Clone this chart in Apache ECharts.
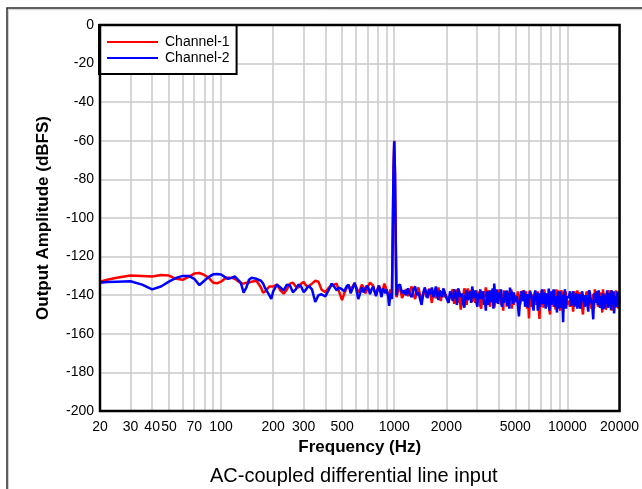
<!DOCTYPE html>
<html><head><meta charset="utf-8">
<script src="https://cdn.jsdelivr.net/npm/echarts@6/dist/echarts.min.js"></script>
<style>html,body{margin:0;padding:0;background:#fff}#chart{width:642px;height:489px}</style>
</head><body><div id="chart"></div>
<script>
// Frequency bins (Hz)
const freqHz = [
  20,22,25,30,35,40,45,50,55,60,65,70,75,80,85,90,95,100,105,110,115,120,130,135,140,145,150,160,170,175,
  180,190,195,200,210,220,230,240,250,260,270,280,290,300,310,320,335,350,365,380,400,420,435,450,465,480,500,
  515,530,545,560,575,590,605,620,635,650,665,680,695,710,725,740,755,770,785,800,815,830,845,860,875,890,905,920,935,950,962,
  970,980,990,1000,1010,1020,1030,
  1040,1050,1080,1110,1140,1170,1200,1230,1260,1290,1320,1350,1380,1410,1440,1470,1500,1530,1560,1590,1620,1650,1680,1710,1740,1770,1800,1830,1860,1890,1920,1950,1980,
  2020,2060,2100,2140,2180,2220,2260,2300,2340,2380,2420,2460,2500,2540,2580,2620,2660,2700,2740,2780,2820,2860,2900,2940,2980,3020,3060,3100,3140,3180,3220,3260,3300,3340,3380,3420,3460,3500,3540,3580,
  3620,3660,3700,3740,3780,3820,3860,3900,3940,3980,4020,4060,4100,4140,4180,4220,4260,4300,4340,4380,4420,4460,4500,4540,4580,4620,4660,4700,4740,4780,4820,4860,4900,4940,4980,
  5100,5175,5250,5325,5400,5475,5550,5625,5700,5775,5850,5925,6000,6075,6150,6225,6300,6375,6450,6525,6600,6675,6750,6825,6900,6975,7050,7125,7200,7275,7350,7425,7500,7575,7650,7725,7800,7875,7950,8025,
  8100,8175,8250,8325,8400,8475,8550,8625,8700,8775,8850,8925,9000,9075,9150,9225,9300,9375,9450,9525,9600,9675,9750,9825,9900,
  10200,10350,10500,10650,10800,10950,11100,11250,11400,11550,11700,11850,12000,12150,12300,12450,12600,12750,12900,13050,13200,13350,13500,13650,13800,13950,14100,14250,14400,14550,14700,14850,15000,
  15150,15300,15450,15600,15750,15900,16050,16200,16350,16500,16650,16800,16950,17100,17250,17400,17550,17700,17850,18000,18150,18300,18450,18600,18750,18900,19050,19200,19350,19500,19650,19800,20000
];
// Channel-1 output amplitude (dBFS)
const channel1 = [
  -133,-132,-131,-129.8,-130,-130.3,-129.5,-129.8,-131.5,-132,-130.5,-128.8,-128.5,-129.5,-131,-133.5,-133.8,-133,-131.5,-131,
  -131,-131.5,-133.8,-134,-133.5,-133.5,-133,-132.5,-136,-138.7,-138,-135.5,-135,-135.5,-134.5,-137.5,-139.2,-137,-134,-133.5,
  -135.5,-136,-134,-133.2,-135,-135.5,-134,-132.5,-133,-137,-138.5,-136,-135,-134.5,-134,-138,-142.5,
  -139,-136.5,-135,-137,-135.5,-134,-136,-138.5,-137,-134.5,-136,-139,-137.5,-135,-133.5,-132.8,-135,-138,-140,-137,
  -135,-136.5,-139.5,-137.5,-134,-135.5,-138,-139.5,-141,-137,-136.5,
  -140,-110,-76,-60,-76,-110,-141,
  -141,-138,-136,-141.5,-139,-137,-140.5,-138,-135.5,-139,-142,-138.5,-136,-140,-143,-139,-137,-141,-139.5,-136.5,
  -140,-144,-138,-137,-141.5,-139,-136,-140.5,-143,-138,-137.5,-141,-139.5,
  -139,-143,-142.5,-138.5,-137,-144.5,-140,-137,-144,-139,-147.5,-143,-141,-136.5,-138,-145,-136.5,-140,-141,-137.5,
  -143.5,-141,-139,-144,-137.5,-140.5,-142,-138,-145.5,-147,-140,-143.5,-138,-141,-136,-139,-141.5,-137.5,-144,-146,
  -139.5,-141,-142,-138.5,-146.5,-144,-140.5,-142,-137.5,-139.5,-141,-137,-143,-145,-139,-143,-148,-137.5,-142.5,-142,
  -138.5,-146,-140,-138,-144.5,-139.5,-141,-143,-137,-147,-142.5,-139,-145,-142.5,-140,
  -142,-138,-139,-145,-144.5,-140,-137.5,-143,-141,-138,-147,-141,-152,-137.5,-143,-146,-139.5,-143,-141.5,-138,
  -145,-141.5,-138,-146,-152.3,-140,-144,-137.5,-140,-146.5,-137,-141,-142.5,-139,-146,-143,-139,-148,-150,-141,
  -143.5,-139,-138.5,-146,-141,-142,-147.5,-137,-140,-144.5,-137.5,-139.5,-144,-148,-142,-137.5,-139,-142,-148.5,-139,
  -141,-144,-138,-140,-145,
  -143,-146,-139,-143,-148.5,-138,-141,-144,-137.5,-140,-145,-138.5,-142,-146,-150,-143,-140,-144,-138,-141,
  -144.5,-137.5,-141.5,-145,-147,-142,-139.5,-147,-137,-140,-143.5,-138,-146,-143,-140.5,-145,-138.5,-141,-149,-137,
  -142,-144,-139,-147.5,-145.5,-139,-141,-142,-137.5,-146,-144,-137.5,-148,-143,-140,-145,-138.5,-140,-143,-137.5,
  -146.5,-142,-139.5,-147,-144,-143
];
// Channel-2 output amplitude (dBFS)
const channel2 = [
  -133.5,-133.2,-133,-132.8,-134.5,-137,-135.5,-133,-131,-130,-130,-131.5,-134.8,-132.5,-130.5,-129.2,-129,-129.3,-130.5,-131.5,
  -131,-130.3,-133.5,-138.7,-136,-132,-131,-131.5,-132.5,-134,-136.5,-140,-142,-138,-134.5,-136,-137.5,-134.5,-135,-138.5,
  -137,-134.5,-135.5,-138.5,-137,-135,-137,-143.5,-140,-139.5,-140.7,-137,-134,-135.5,-137.5,-136,-137,
  -138,-135.5,-134.5,-139,-136.5,-133.5,-137,-142,-139,-136,-138.5,-137,-135,-136.5,-139.5,-137,-135.5,-138,-140.5,-137.5,
  -135,-138,-141,-136.5,-135.5,-139,-137,-140,-145.5,-139,-140,
  -142,-110,-76,-60.3,-76,-110,-140,
  -140,-135,-134.5,-139,-137.5,-140,-136.5,-139.5,-141,-137,-135.5,-140,-138.5,-142,-145,-139,-136,-138.5,-141.5,-137,
  -139.5,-136,-141,-138.5,-135.5,-140,-142.5,-137.5,-139,-141,-136.5,-138,-140.5,
  -141,-144,-138,-140.5,-143,-137,-139.5,-145,-136.5,-138.5,-141,-139,-144.5,-146.5,-140,-137.5,-142.5,-141,-138,-144,
  -135.5,-139,-141.5,-137.5,-143.5,-146,-139,-142,-137,-140,-142,-138,-145,-143,-148,-139.5,-138,-145,-141,-137.5,
  -143.5,-141.5,-136.5,-147,-134,-139,-144,-137,-142,-144.5,-138.5,-142,-140.5,-137,-146,-141.5,-141.5,-144,-138,-140,
  -143,-137.5,-145.5,-142,-139,-147,-136,-140,-142.5,-138,-140,-144.5,-138.5,-141,-143.5,
  -140.5,-145,-151,-143,-138,-141,-143,-137.5,-146,-142,-139.5,-146.5,-142,-138,-137,-141,-145.5,-148,-140,-137.5,
  -143,-139,-148,-144,-139,-146,-141.5,-137,-144.5,-140.5,-138.5,-143,-147,-139,-140,-145,-136.5,-148,-143,-138,
  -145,-142,-139.5,-137,-141,-146,-144,-140.5,-149,-143,-138,-147,-142.5,-138,-146.5,-141.5,-140,-145,-154,-140,
  -139,-137,-143.5,-147,-141,
  -141,-138,-145.5,-141,-138,-146,-143.5,-139,-147,-142.5,-139.5,-147,-144,-138,-137.5,-143,-146,-140,-141,-145,
  -148.5,-137.5,-139,-144,-142.5,-147,-152.5,-139,-140,-144,-138,-141.5,-145,-137.5,-143,-146.5,-140.5,-142,-147.5,-139,
  -138.5,-147,-144,-140,-141.5,-137.5,-146.5,-144,-139,-141,-142,-147.5,-137.5,-140,-145,-138,-149.5,-144.5,-140.5,-146,
  -143,-140,-138,-137.5,-146,-140
];
const seriesNames = ['Channel-1', 'Channel-2'];
const xLabelValues = [20,30,40,50,70,100,200,300,500,1000,2000,5000,10000,20000];
const xGridValues = [20,30,40,50,60,70,80,90,100,200,300,400,500,600,700,800,900,1000,2000,3000,4000,5000,6000,7000,8000,9000,10000,20000];
const yMin = -200, yMax = 0, yStep = 20;

const FONT = '"Liberation Sans", Arial, sans-serif';
const lg = v => Math.log10(v);
const toPts = vals => freqHz.map((f, i) => [lg(f), vals[i]]);

const chart = echarts.init(document.getElementById('chart'), null, {renderer: 'canvas'});
chart.setOption({
  animation: false,
  backgroundColor: '#fff',
  textStyle: {fontFamily: FONT},
  graphic: [
    {type: 'rect', shape: {x: 7, y: 8, width: 700, height: 600}, style: {fill: 'none', stroke: '#2b2b2b', lineWidth: 1.5}, z: 0},
    {type: 'rect', shape: {x: 8.5, y: 9.7, width: 700, height: 600}, style: {fill: 'none', stroke: '#cfcfcf', lineWidth: 1}, z: 0}
  ],
  title: {
    text: 'AC-coupled differential line input',
    left: 210, top: 466, padding: 0,
    textStyle: {fontFamily: FONT, fontSize: 20, fontWeight: 'normal', color: '#000'}
  },
  grid: {left: 100, right: 20, top: 25, bottom: 78, show: true, borderColor: '#000', borderWidth: 2.5, z: 10, backgroundColor: 'transparent'},
  legend: {
    data: seriesNames.map(n => ({name: n, icon: 'rect'})),
    left: 99, top: 25, orient: 'vertical',
    backgroundColor: '#fff', borderColor: '#000', borderWidth: 2,
    padding: [9, 7, 8, 8], itemGap: 0, itemWidth: 51, itemHeight: 2,
    textStyle: {fontFamily: FONT, fontSize: 14, color: '#000', lineHeight: 16, padding: [0, 0, 0, 2]},
    z: 6
  },
  xAxis: {
    type: 'value', min: lg(20), max: lg(20000),
    name: 'Frequency (Hz)', nameLocation: 'middle', nameGap: 27,
    nameTextStyle: {fontFamily: FONT, fontSize: 17, fontWeight: 'bold', color: '#000'},
    axisLine: {show: false},
    axisTick: {show: false, customValues: xGridValues.map(lg)},
    axisLabel: {customValues: xLabelValues.map(lg), formatter: v => String(Math.round(Math.pow(10, v))), fontFamily: FONT, fontSize: 14, color: '#000', margin: 9},
    splitLine: {show: true, lineStyle: {color: '#c8c8c8', width: 1.5}}
  },
  yAxis: {
    type: 'value', min: yMin, max: yMax, interval: yStep,
    name: 'Output Amplitude (dBFS)', nameLocation: 'middle', nameGap: 48, nameRotate: 90,
    nameTextStyle: {fontFamily: FONT, fontSize: 17, fontWeight: 'bold', color: '#000'},
    axisLine: {show: false}, axisTick: {show: false},
    axisLabel: {fontFamily: FONT, fontSize: 14, color: '#000', margin: 6},
    splitLine: {show: true, lineStyle: {color: '#c8c8c8', width: 1.5}}
  },
  series: [
    {name: seriesNames[0], type: 'line', data: toPts(channel1), symbol: 'none', sampling: null,
     lineStyle: {color: '#ff0000', width: 2.5}, itemStyle: {color: '#ff0000'}, z: 3},
    {name: seriesNames[1], type: 'line', data: toPts(channel2), symbol: 'none', sampling: null,
     lineStyle: {color: '#0000ff', width: 2.5}, itemStyle: {color: '#0000ff'}, z: 4}
  ]
});
</script>
</body></html>
